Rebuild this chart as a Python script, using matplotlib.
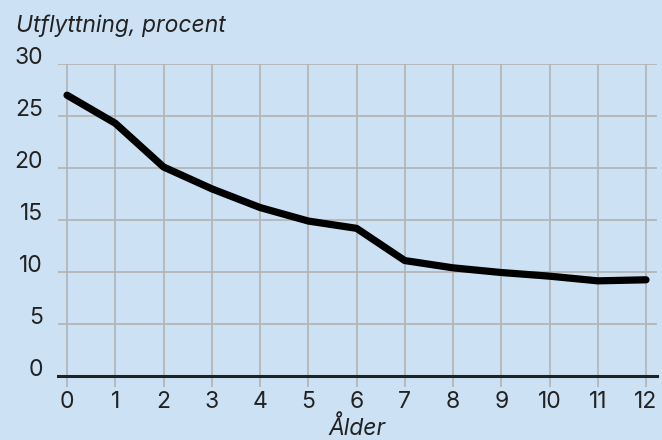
import matplotlib.pyplot as plt
from matplotlib.transforms import ScaledTranslation

# Data: utflyttning per ålder
alder = [0, 1, 2, 3, 4, 5, 6, 7, 8, 9, 10, 11, 12]
utflyttning = [27.0, 24.3, 20.1, 18.0, 16.2, 14.9, 14.2, 11.1, 10.4, 9.95, 9.6, 9.15, 9.25]
yticks = [0, 5, 10, 15, 20, 25, 30]

BG = '#cce2f4'
GRID = '#b3b3b3'
TXT = '#222222'
FS = 16.5

plt.rcParams['font.family'] = ['Inter', 'DejaVu Sans']

W, H = 662, 440
fig = plt.figure(figsize=(W / 100, H / 100), dpi=100, facecolor=BG)
# axes in pixel coordinates: left 58, right 657, top 64, bottom 376
ax = fig.add_axes([58 / W, (H - 376) / H, (657 - 58) / W, (376 - 64) / H])
ax.set_facecolor(BG)

ax.plot(alder, utflyttning, color='black', linewidth=5.2, solid_joinstyle='round',
        solid_capstyle='round', zorder=3, clip_on=False)

ax.set_xlim(-0.187, 12.228)
ax.set_ylim(0, 30)
ax.set_xticks(alder)
ax.set_yticks(yticks)
ax.set_xticklabels([str(a) for a in alder])
ax.set_yticklabels([str(v) for v in yticks])

ax.grid(True, color=GRID, linewidth=1.2)
for s in ['top', 'right', 'left']:
    ax.spines[s].set_visible(False)
ax.spines['bottom'].set_color(TXT)
ax.spines['bottom'].set_linewidth(2.2)
ax.spines['bottom'].set_zorder(4)

ax.tick_params(axis='x', length=8, color=GRID, width=1.2, pad=3, labelsize=FS, labelcolor=TXT)
ax.tick_params(axis='y', length=0, pad=11, labelsize=FS, labelcolor=TXT)
shift = ScaledTranslation(0, 6 / 100, fig.dpi_scale_trans)
for lab in ax.get_yticklabels():
    lab.set_verticalalignment('center')
    lab.set_transform(lab.get_transform() + shift)

fig.text(16 / W, 1 - 26 / H, 'Utflyttning, procent', fontsize=FS, style='italic',
         color=TXT, va='center', ha='left')
fig.text(357 / W, 1 - 435 / H, 'Ålder', fontsize=FS, style='italic',
         color=TXT, va='baseline', ha='center')

fig.savefig('out.png', dpi=100, facecolor=BG)
